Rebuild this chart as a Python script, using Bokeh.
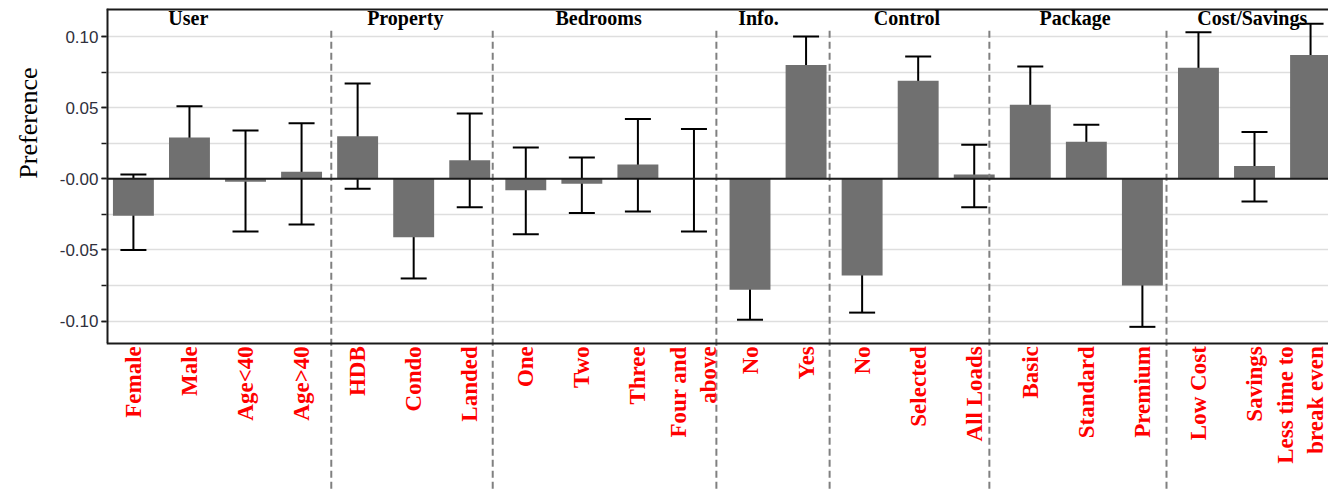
import math
from bokeh.plotting import figure
from bokeh.models import (ColumnDataSource, Range1d, FixedTicker, Whisker, TeeHead,
                          Span, Label, LinearAxis, Title)
from bokeh.embed import file_html
from bokeh.resources import INLINE

# ---------------- data ----------------
categories = ["Female", "Male", "Age<40", "Age>40",
              "HDB", "Condo", "Landed",
              "One", "Two", "Three", "Four and\nabove",
              "No", "Yes",
              "No", "Selected", "All Loads",
              "Basic", "Standard", "Premium",
              "Low Cost", "Savings", "Less time to\nbreak even"]
groups = ["User", "Property", "Bedrooms", "Info.", "Control", "Package", "Cost/Savings"]
group_sizes = [4, 3, 4, 2, 3, 3, 3]
preference = [-0.026, 0.029, -0.002, 0.005,
              0.030, -0.041, 0.013,
              -0.008, -0.0035, 0.010, 0.000,
              -0.078, 0.080,
              -0.068, 0.069, 0.003,
              0.052, 0.026, -0.075,
              0.078, 0.009, 0.087]
upper = [0.003, 0.051, 0.034, 0.039,
         0.067, -0.013, 0.046,
         0.022, 0.015, 0.042, 0.035,
         -0.057, 0.100,
         -0.044, 0.086, 0.024,
         0.079, 0.038, -0.044,
         0.103, 0.033, 0.109]
lower = [-0.050, 0.003, -0.037, -0.032,
         -0.007, -0.070, -0.020,
         -0.039, -0.024, -0.023, -0.037,
         -0.099, 0.057,
         -0.094, 0.049, -0.020,
         0.024, 0.011, -0.104,
         0.053, -0.016, 0.064]
y_ticks = [-0.10, -0.05, 0.0, 0.05, 0.10]
y_tick_labels = ["-0.10", "-0.05", "-0.00", "0.05", "0.10"]

# ---------------- layout / style ----------------
Y_TOP = 0.1197        # top edge of plotting area
Y_AXIS = -0.1155      # where the category axis sits
Y_BOTTOM = -0.2183    # canvas bottom (dashed separators run down to here)
X_START, X_END = -0.48, 21.32

xs = list(range(len(categories)))
src = ColumnDataSource(dict(x=xs, pref=preference, upper=upper, lower=lower))

p = figure(width=1328, height=489,
           x_range=Range1d(X_START, X_END), y_range=Range1d(Y_BOTTOM, Y_TOP),
           output_backend="svg", toolbar_location=None, x_axis_location=None,
           min_border_left=106, min_border_right=0, min_border_top=8, min_border_bottom=0)
p.background_fill_color = "white"
p.border_fill_color = "white"
p.outline_line_color = None

# grid
minor = [round(-0.1 + 0.025 * i, 3) for i in range(9)]
p.xgrid.visible = False
p.ygrid.ticker = FixedTicker(ticks=minor)
p.ygrid.grid_line_color = "#dedede"
p.ygrid.grid_line_width = 1.5

# y axis
p.yaxis.ticker = FixedTicker(ticks=y_ticks, minor_ticks=minor)
p.yaxis.major_label_overrides = {t: l for t, l in zip(y_ticks, y_tick_labels)}
p.yaxis.major_tick_in = 0
p.yaxis.major_tick_out = 5
p.yaxis.minor_tick_in = 0
p.yaxis.minor_tick_out = 5
p.yaxis.major_tick_line_color = "#1a1a1a"
p.yaxis.minor_tick_line_color = "#1a1a1a"
p.yaxis.major_tick_line_width = 1.5
p.yaxis.minor_tick_line_width = 1.5
p.yaxis.axis_line_color = None
p.yaxis.major_label_text_font = "Liberation Sans"
p.yaxis.major_label_text_font_size = "17px"
p.yaxis.major_label_text_color = "#30303c"
p.yaxis.major_label_standoff = 3

# y axis title
p.add_layout(Title(text="Preference", align="right", offset=49, vertical_align="top",
                   standoff=4, padding=10, text_font="Liberation Serif", text_font_size="26px",
                   text_font_style="normal", text_color="black"), "left")

# frame border (left and top), drawn in data space
p.segment(x0=[X_START, X_START], y0=[Y_AXIS, Y_TOP], x1=[X_START, X_END], y1=[Y_TOP, Y_TOP],
          line_color="#1a1a1a", line_width=4)

# x axis fixed at the bottom of the bar area
xaxis = LinearAxis(fixed_location=Y_AXIS)
xaxis.ticker = FixedTicker(ticks=xs)
xaxis.major_label_overrides = {i: c for i, c in zip(xs, categories)}
xaxis.major_label_orientation = math.pi / 2
xaxis.major_tick_line_color = None
xaxis.minor_tick_line_color = None
xaxis.major_tick_out = 0
xaxis.major_tick_in = 0
xaxis.major_label_standoff = 3
xaxis.axis_line_color = "#1a1a1a"
xaxis.axis_line_width = 2
xaxis.major_label_text_font = "Liberation Serif"
xaxis.major_label_text_font_style = "bold"
xaxis.major_label_text_font_size = "23px"
xaxis.major_label_text_color = "#ff0000"
p.add_layout(xaxis, "below")

# bars
p.vbar(x="x", top="pref", bottom=0, width=0.73, source=src,
       fill_color="#707070", line_color=None)

# zero line
p.add_layout(Span(location=0, dimension="width", line_color="#1a1a1a", line_width=2))

# error bars
p.add_layout(Whisker(base="x", upper="upper", lower="lower", source=src,
                     line_color="black", line_width=2,
                     upper_head=TeeHead(size=26, line_color="black", line_width=2),
                     lower_head=TeeHead(size=26, line_color="black", line_width=2)))

# group separators
sep_offsets = [0.03, -0.09, -0.10, -0.08, -0.23, -0.07]
seps = []
cum = 0
for size, off in zip(group_sizes[:-1], sep_offsets):
    cum += size
    seps.append(cum - 0.5 + off)
p.segment(x0=seps, x1=seps, y0=[0.104] * len(seps), y1=[Y_BOTTOM] * len(seps),
          line_color="#808080", line_width=2, line_dash="7 4")

# group labels
group_label_x = [0.98, 4.85, 8.3, 11.15, 13.8, 16.8, 19.96]
for g, gx in zip(groups, group_label_x):
    p.add_layout(Label(x=gx, y=0.1127, text=g, text_align="center", text_baseline="middle",
                       text_font="Liberation Serif", text_font_style="bold",
                       text_font_size="20px", text_color="black"))

open("out.html", "w").write(file_html(p, INLINE))
